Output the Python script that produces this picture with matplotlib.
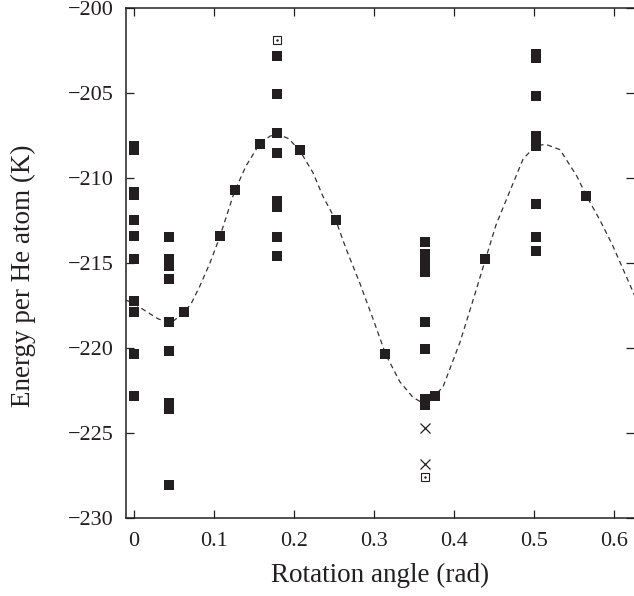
import matplotlib
matplotlib.use('Agg')
import matplotlib.pyplot as plt

plt.rcParams['font.family'] = ['Liberation Serif', 'DejaVu Serif']

# filled squares: (angle, energy)
sq_x = [0.0, 0.0, 0.0, 0.0, 0.0, 0.0, 0.0, 0.0, 0.0, 0.0, 0.0,
	0.044, 0.044, 0.044, 0.044, 0.044, 0.044, 0.044, 0.044, 0.044, 0.044,
	0.063, 0.107, 0.1256, 0.157,
	0.179, 0.179, 0.179, 0.179, 0.179, 0.179, 0.179, 0.179,
	0.207, 0.252, 0.314,
	0.364, 0.364, 0.364, 0.364, 0.364, 0.364, 0.364, 0.364, 0.364,
	0.3765, 0.439,
	0.502, 0.502, 0.502, 0.502, 0.502, 0.502, 0.502, 0.502, 0.502,
	0.565]
sq_y = [-208.15, -208.35, -210.85, -211.0, -212.5, -213.45, -214.8, -217.25, -217.9, -220.4, -222.85,
	-213.5, -214.8, -215.0, -215.2, -215.95, -218.5, -220.2, -223.25, -223.6, -228.1,
	-217.9, -213.45, -210.75, -208.0,
	-202.85, -205.1, -207.4, -208.55, -211.4, -211.7, -213.5, -214.6,
	-208.4, -212.5, -220.4,
	-213.8, -214.5, -214.85, -215.2, -215.55, -218.5, -220.05, -223.0, -223.4,
	-222.85, -214.8,
	-202.7, -202.95, -205.2, -207.55, -207.85, -208.15, -211.55, -213.5, -214.3,
	-211.05]

# open squares and crosses
open_x = [0.179, 0.364]
open_y = [-201.9, -227.6]
cross_x = [0.364, 0.364]
cross_y = [-224.75, -226.85]

# dashed fit curve
curve_x = [-0.01, 0.0, 0.013, 0.03, 0.042, 0.05, 0.063, 0.0715, 0.082, 0.095,
	0.107, 0.1256, 0.14, 0.157, 0.17, 0.18, 0.193, 0.207, 0.2235, 0.236,
	0.252, 0.265, 0.282, 0.2985, 0.3144, 0.332, 0.348, 0.36, 0.372, 0.386,
	0.407, 0.4235, 0.439, 0.452, 0.465, 0.486, 0.502, 0.515, 0.532, 0.553,
	0.565, 0.582, 0.598, 0.611, 0.625]
curve_y = [-217.2, -217.4, -217.8, -218.3, -218.5, -218.4, -217.9, -217.4, -216.4, -215.0,
	-213.5, -210.8, -209.3, -208.0, -207.55, -207.45, -207.7, -208.4, -209.7, -211.1,
	-212.5, -214.2, -216.2, -218.3, -220.4, -222.0, -222.9, -223.25, -223.0, -222.3,
	-219.7, -217.2, -214.8, -212.8, -211.3, -208.9, -208.1, -208.05, -208.35, -209.9,
	-211.06, -212.5, -214.0, -215.4, -216.9]

xticks = [0, 0.1, 0.2, 0.3, 0.4, 0.5, 0.6]
xtick_labels = ['0', '0.1', '0.2', '0.3', '0.4', '0.5', '0.6']
yticks = [-230, -225, -220, -215, -210, -205, -200]

dark = '#231f20'

fig = plt.figure(figsize=(6.34, 5.96), dpi=100)
ax = fig.add_axes([0.1995, 0.1314, 0.8005, 0.8557])

ax.plot(curve_x, curve_y, color='#333333', lw=0.9, ls=(0, (4, 3)))
ax.plot(sq_x, sq_y, 's', color=dark, ms=7.4, mew=0, ls='none')
ax.plot(open_x, open_y, 's', mfc='white', mec=dark, ms=6.3, mew=0.8, ls='none')
ax.plot(open_x, open_y, '.', color=dark, ms=1.5, ls='none')
ax.plot(cross_x, cross_y, 'x', color=dark, ms=6.5, mew=0.9, ls='none')

ax.set_xlim(-0.0094, 0.6245)
ax.set_ylim(-230, -200)
ax.set_xticks(xticks)
ax.set_xticklabels(xtick_labels)
ax.set_yticks(yticks)
ax.tick_params(direction='in', top=True, right=True, length=6, width=0.9,
	labelsize=16, colors=dark, pad=9)
ax.tick_params(axis='x', pad=10)
ax.spines['right'].set_visible(False)
for s in ['left', 'top', 'bottom']:
	ax.spines[s].set_linewidth(1.1)
	ax.spines[s].set_color(dark)

ax.set_xlabel('Rotation angle (rad)', fontsize=19.5, color=dark, labelpad=9)
ax.set_ylabel('Energy per He atom (K)', fontsize=19.5, color=dark)
ax.yaxis.set_label_coords(-0.178, 0.4745)

fig.savefig('out.png', dpi=100)
